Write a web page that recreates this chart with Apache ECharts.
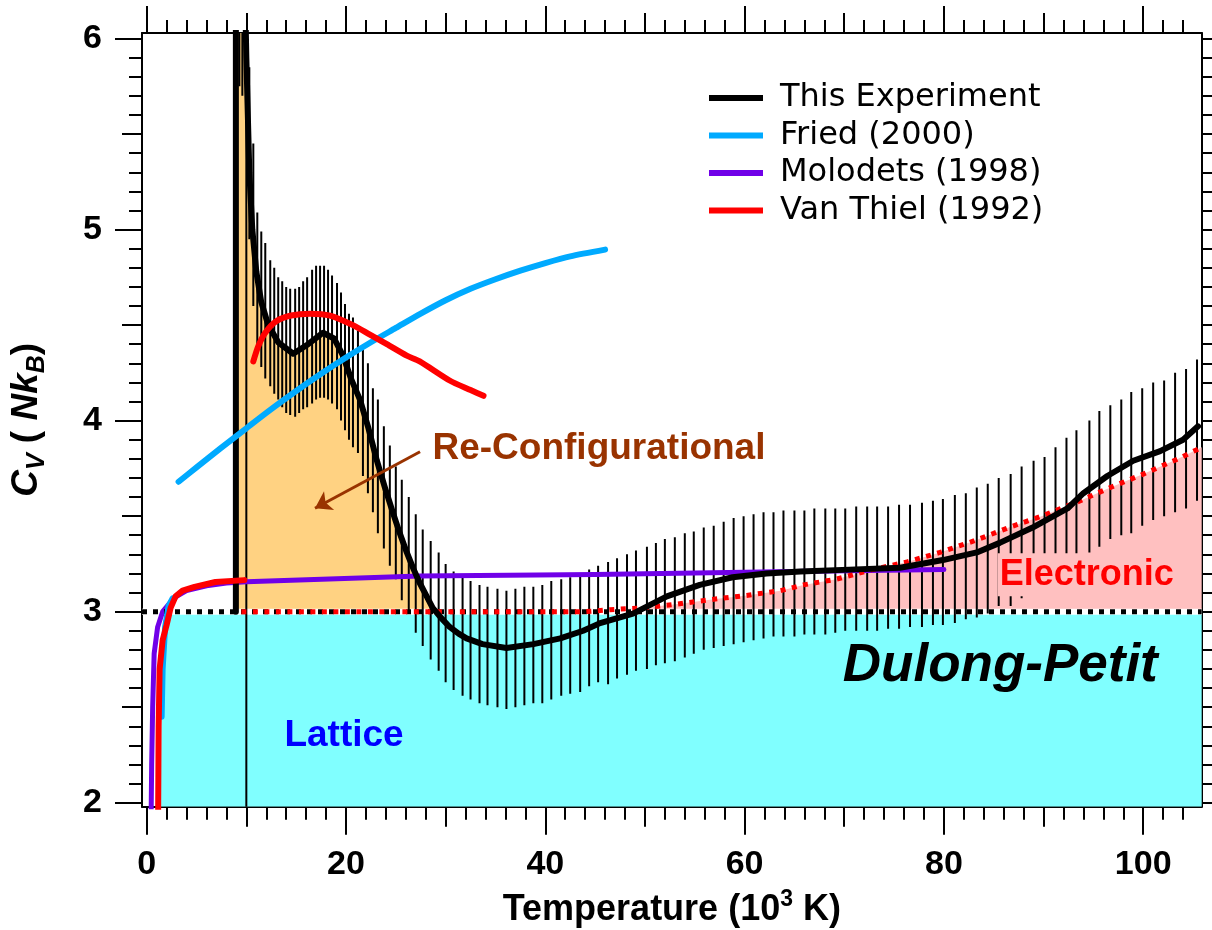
<!DOCTYPE html>
<html>
<head>
<meta charset="utf-8">
<script src="https://cdn.jsdelivr.net/npm/echarts@6.0.0/dist/echarts.min.js"></script>
<style>
  html, body { margin: 0; padding: 0; background: #fff; }
  #chart { width: 1212px; height: 930px; }
</style>
</head>
<body>
<div id="chart"></div>
<script>
// ---------- data (temperature in 10^3 K, Cv in Nk_B) ----------
// This Experiment: specific heat curve
const expT  = [8.95, 8.95, 9.85, 10.0, 10.3, 10.6, 11.0, 11.5, 12.2, 13.2, 14.7, 16.2, 17.7, 18.8, 19.7, 20.5, 21.4, 22.2, 23.1, 23.9,
               24.7, 25.4, 26.1, 26.8, 27.4, 28.1, 28.7, 29.5, 30.4, 31.3, 32.1, 33.7, 36.1, 38.8, 41.5, 43.8, 45.5, 48.8, 52.2, 55.5,
               58.8, 62.2, 65.6, 70.5, 75.6, 79.9, 83.3, 85.6, 88.9, 92.4, 94.0, 96.4, 99.0, 101.7, 104.0, 105.5];
const expCv = [3.0, 6.3, 6.3, 5.9, 5.3, 5.0, 4.78, 4.62, 4.5, 4.41, 4.35, 4.40, 4.46, 4.43, 4.34, 4.22, 4.11, 3.97, 3.79, 3.65,
               3.52, 3.41, 3.31, 3.22, 3.15, 3.08, 3.02, 2.97, 2.92, 2.885, 2.86, 2.83, 2.81, 2.83, 2.86, 2.90, 2.94, 2.99, 3.08, 3.14,
               3.18, 3.20, 3.21, 3.22, 3.23, 3.27, 3.31, 3.36, 3.44, 3.54, 3.62, 3.71, 3.79, 3.84, 3.90, 3.97];

// This Experiment: error bars (temperature, lower end, upper end)
const errT  = [9.3, 9.6, 10.0, 10.3, 10.7, 11.1, 11.5, 11.9, 12.4, 12.8, 13.2, 13.6,
               14.0, 14.4, 14.9, 15.3, 15.7, 16.1, 16.6, 17.0, 17.4, 17.8,
               18.2, 18.6, 19.1, 19.5, 19.9, 20.3, 20.7, 21.2, 21.7, 22.2,
               22.7, 23.2, 23.8, 24.4, 25.0, 25.6, 26.3, 27.0, 27.7, 28.5,
               29.3, 30.0, 30.8, 31.7, 32.5, 33.4, 34.2, 35.2, 36.1, 37.0,
               37.9, 38.8, 39.7, 40.6, 41.6, 42.5, 43.5, 44.4, 45.3, 46.3,
               47.2, 48.2, 49.1, 50.2, 51.1, 52.0, 53.0, 54.0, 54.9, 55.9,
               56.9, 57.9, 58.9, 59.9, 60.9, 61.9, 62.9, 63.9, 65.0, 66.0,
               67.0, 68.1, 69.1, 70.1, 71.2, 72.3, 73.3, 74.4, 75.5, 76.6,
               77.8, 78.9, 79.9, 81.1, 82.2, 83.3, 84.4, 85.5, 86.7, 87.8,
               89.0, 90.1, 91.2, 92.3, 93.3, 94.6, 95.6, 96.7, 97.8, 98.8,
               99.9, 101.0, 102.1, 103.2, 104.3, 105.4];
const errLo = [5.75, 5.7, 1.9, 4.95, 4.6, 4.38, 4.28, 4.22, 4.18, 4.14, 4.11, 4.07,
               4.04, 4.03, 4.02, 4.04, 4.06, 4.07, 4.09, 4.11, 4.12, 4.12,
               4.11, 4.09, 4.06, 4.00, 3.95, 3.90, 3.86, 3.83, 3.71, 3.62,
               3.52, 3.41, 3.33, 3.24, 3.17, 3.06, 3.00, 2.89, 2.82, 2.75,
               2.69, 2.63, 2.59, 2.56, 2.54, 2.52, 2.51, 2.50, 2.49, 2.50,
               2.51, 2.52, 2.52, 2.54, 2.56, 2.57, 2.58, 2.61, 2.63, 2.62,
               2.65, 2.67, 2.69, 2.70, 2.72, 2.73, 2.74, 2.76, 2.78, 2.80,
               2.81, 2.82, 2.83, 2.84, 2.85, 2.86, 2.87, 2.87, 2.87, 2.88,
               2.88, 2.88, 2.89, 2.90, 2.90, 2.90, 2.90, 2.91, 2.91, 2.92,
               2.92, 2.93, 2.93, 2.94, 2.96, 2.97, 2.99, 3.03, 3.03, 3.07,
               3.10, 3.13, 3.17, 3.20, 3.24, 3.31, 3.34, 3.38, 3.40, 3.41,
               3.45, 3.48, 3.50, 3.52, 3.54, 3.58];
const errHi = [6.5, 6.5, 6.5, 5.85, 5.45, 5.09, 4.99, 4.93, 4.84, 4.80, 4.75, 4.73,
               4.70, 4.69, 4.69, 4.70, 4.73, 4.75, 4.79, 4.81, 4.81, 4.81,
               4.79, 4.76, 4.72, 4.67, 4.61, 4.56, 4.54, 4.47, 4.39, 4.30,
               4.17, 4.11, 3.97, 3.87, 3.76, 3.69, 3.60, 3.51, 3.43, 3.37,
               3.31, 3.25, 3.21, 3.18, 3.16, 3.14, 3.13, 3.12, 3.11, 3.12,
               3.13, 3.13, 3.14, 3.16, 3.17, 3.18, 3.19, 3.22, 3.24, 3.26,
               3.28, 3.30, 3.32, 3.34, 3.36, 3.38, 3.39, 3.41, 3.42, 3.44,
               3.45, 3.47, 3.49, 3.50, 3.51, 3.52, 3.52, 3.53, 3.53, 3.53,
               3.54, 3.54, 3.54, 3.54, 3.55, 3.55, 3.55, 3.55, 3.56, 3.56,
               3.57, 3.58, 3.59, 3.61, 3.62, 3.65, 3.67, 3.70, 3.72, 3.76,
               3.79, 3.81, 3.86, 3.91, 3.95, 4.00, 4.05, 4.08, 4.11, 4.15,
               4.17, 4.20, 4.21, 4.25, 4.27, 4.32];

// Fried (2000)
const friedLowT  = [1.5, 1.6, 1.85, 2.2, 2.6];
const friedLowCv = [2.45, 2.7, 2.92, 3.03, 3.07];
const friedT  = [3.2, 5, 7.4, 10, 12.5, 15, 17.5, 20, 22.5, 25, 27.5, 30, 32.5, 35, 37.5, 40, 42.5, 46];
const friedCv = [3.68, 3.755, 3.855, 3.96, 4.06, 4.155, 4.245, 4.33, 4.41, 4.485, 4.56, 4.63, 4.69, 4.74, 4.785, 4.825, 4.86, 4.895];

// Molodets (1998)
const molT  = [0.45, 0.5, 0.6, 0.75, 1.1, 1.6, 2.4, 3.0, 4.0, 6.0, 8.0, 10.0, 27.4, 45.0, 65.0, 80.0];
const molCv = [1.95, 2.2, 2.5, 2.78, 2.92, 3.0, 3.05, 3.08, 3.11, 3.135, 3.15, 3.157, 3.187, 3.195, 3.21, 3.22];

// Van Thiel (1992)
const vtLowT  = [1.15, 1.2, 1.3, 1.6, 2.0, 2.4, 2.9, 3.6, 4.8, 6.9, 9.8];
const vtLowCv = [1.95, 2.4, 2.7, 2.85, 2.93, 3.02, 3.08, 3.11, 3.13, 3.155, 3.165];
const vtHighT  = [10.7, 11.2, 11.9, 13.0, 14.5, 16.4, 18.4, 20.7, 22.4, 24.1, 26.1, 27.4, 30.4, 32.5, 33.8];
const vtHighCv = [4.31, 4.39, 4.46, 4.52, 4.55, 4.56, 4.55, 4.50, 4.45, 4.40, 4.34, 4.31, 4.21, 4.16, 4.13];

// Contributions: lattice boundary, Dulong-Petit level, electronic term
const latticeT  = [1.4, 1.5, 1.6, 1.85, 2.2, 2.8, 105.87];
const latticeCv = [1.98, 2.45, 2.7, 2.9, 2.97, 3.0, 3.0];
const dulongPetit = 3;
const elecT  = [8.9, 44.0, 46.5, 49.8, 53.3, 56.9, 60.2, 63.6, 65.9, 69.2, 72.8, 76.3, 79.6, 83.0, 86.5, 89.8, 93.2, 96.7, 100.0, 103.5, 105.87];
const elecCv = [3.0, 3.0, 3.01, 3.02, 3.04, 3.065, 3.085, 3.11, 3.14, 3.17, 3.22, 3.26, 3.31, 3.37, 3.44, 3.50, 3.57, 3.65, 3.72, 3.80, 3.86];

// Annotations
const annText = ['Lattice', 'Re-Configurational', 'Electronic', 'Dulong-Petit'];
const annT  = [13.87, 28.73, 85.45, 69.9];
const annCv = [2.35, 3.85, 3.19, 2.71];
const arrowFrom = [27.43, 3.837];
const arrowTo   = [16.89, 3.541];

// Axis ticks
const xMajor = [0, 20, 40, 60, 80, 100];
const xMid   = [10, 30, 50, 70, 90];
const xMinor = [];
for (let i = 1; i <= 52; i++) { if ((2 * i) % 10 !== 0) xMinor.push(2 * i); }
const yMajor = [2, 3, 4, 5, 6];
const yMid   = [2.5, 3.5, 4.5, 5.5];
const yMinor = [];
for (let i = 21; i < 60; i++) { if (i % 5 !== 0) yMinor.push(i / 10); }

// ---------- chart ----------
const X_MIN = -0.47, X_MAX = 105.87, Y_MIN = 1.979, Y_MAX = 6.029;
const pairs = (xs, ys) => xs.map((x, i) => [x, ys[i]]);
const BOLD = 'Liberation Sans';
const SMOOTH = 0.25;

function tickAxis(dim, pos, values, len, showLine, extra) {
  return Object.assign({
    type: 'value',
    position: pos,
    gridIndex: 0,
    min: dim === 'x' ? X_MIN : Y_MIN,
    max: dim === 'x' ? X_MAX : Y_MAX,
    axisLine: { show: showLine, onZero: false, lineStyle: { color: '#000', width: 2 } },
    axisTick: { show: true, inside: false, customValues: values, length: len, lineStyle: { color: '#000', width: 2 } },
    axisLabel: { show: false },
    splitLine: { show: false },
    minorTick: { show: false },
    minorSplitLine: { show: false },
    nameMoveOverlap: false,
    silent: true
  }, extra || {});
}

const xAxes = [
  tickAxis('x', 'bottom', xMajor, 28, true, {
    axisLabel: { show: true, customValues: xMajor, margin: 41, color: '#000',
                 fontFamily: BOLD, fontWeight: 'bold', fontSize: 34 },
    name: '{n|Temperature (10}{s|3}{n| K)}',
    nameLocation: 'middle',
    nameGap: 81,
    nameTextStyle: {
      rich: {
        n: { fontFamily: BOLD, fontWeight: 'bold', fontSize: 36, color: '#000', lineHeight: 44, verticalAlign: 'middle' },
        s: { fontFamily: BOLD, fontWeight: 'bold', fontSize: 23, color: '#000', lineHeight: 24, verticalAlign: 'top' }
      }
    }
  }),
  tickAxis('x', 'bottom', xMid, 20, false),
  tickAxis('x', 'bottom', xMinor, 13, false),
  tickAxis('x', 'top', xMajor, 27, true),
  tickAxis('x', 'top', xMid, 20, false),
  tickAxis('x', 'top', xMinor, 13, false)
];

const yAxes = [
  tickAxis('y', 'left', yMajor, 27, true, {
    axisLabel: { show: true, customValues: yMajor, margin: 40, color: '#000',
                 fontFamily: BOLD, fontWeight: 'bold', fontSize: 34 },
    name: '{i|C}{sub|V}{n| ( }{i|Nk}{sub|B}{n|)}',
    nameLocation: 'middle',
    nameGap: 92,
    nameTextStyle: {
      rich: {
        i: { fontFamily: BOLD, fontWeight: 'bold', fontStyle: 'italic', fontSize: 37, color: '#000', lineHeight: 46, verticalAlign: 'middle' },
        n: { fontFamily: BOLD, fontWeight: 'bold', fontSize: 37, color: '#000', lineHeight: 46, verticalAlign: 'middle' },
        sub: { fontFamily: BOLD, fontWeight: 'bold', fontStyle: 'italic', fontSize: 25, color: '#000', lineHeight: 25, verticalAlign: 'bottom' }
      }
    }
  }),
  tickAxis('y', 'left', yMid, 20, false),
  tickAxis('y', 'left', yMinor, 13, false),
  tickAxis('y', 'right', yMajor, 27, true),
  tickAxis('y', 'right', yMid, 20, false),
  tickAxis('y', 'right', yMinor, 13, false)
];

function curve(name, data, color, width, z, extra) {
  return Object.assign({
    name: name,
    type: 'line',
    data: data,
    xAxisIndex: 0,
    yAxisIndex: 0,
    z: z,
    symbol: 'none',
    showSymbol: false,
    clip: true,
    silent: true,
    color: color,
    itemStyle: { color: color },
    lineStyle: { color: color, width: width, join: 'round', cap: 'round' }
  }, extra || {});
}

function fill(name, data, color, origin) {
  return {
    name: name,
    type: 'line',
    data: data,
    z: 1,
    symbol: 'none',
    silent: true,
    clip: true,
    lineStyle: { width: 0, opacity: 0 },
    areaStyle: { color: color, opacity: 1, origin: origin }
  };
}

// Re-configurational part: experiment curve above the Dulong-Petit level, up to where it meets it
const reconfigData = pairs(expT, expCv).filter(p => p[0] <= 28.8);

const annStyles = [
  { color: '#0000FF', fontSize: 37 },
  { color: '#993300', fontSize: 37 },
  { color: '#FF0000', fontSize: 36, backgroundColor: '#FFC0C0', padding: [4, 2, 3, 2] },
  { color: '#000000', fontSize: 53, fontStyle: 'italic' }
];

const annotationData = annText.map((t, i) => ({
  value: [annT[i], annCv[i]],
  label: Object.assign({
    show: true,
    formatter: t,
    position: [0, 0],
    align: 'left',
    verticalAlign: 'middle',
    fontFamily: BOLD,
    fontWeight: 'bold',
    textBorderWidth: 0,
    textShadowBlur: 0,
    opacity: 1
  }, annStyles[i])
}));

const chart = echarts.init(document.getElementById('chart'), null, { renderer: 'canvas' });
chart.setOption({
  animation: false,
  backgroundColor: '#ffffff',
  grid: { left: 142, top: 33, right: 10.3, bottom: 123.3, containLabel: false, outerBoundsMode: 'none' },
  xAxis: xAxes,
  yAxis: yAxes,
  legend: {
    orient: 'vertical',
    left: 709,
    top: 82,
    padding: 0,
    itemWidth: 54,
    itemHeight: 6,
    itemGap: 5.5,
    icon: 'rect',
    selectedMode: false,
    textStyle: { fontFamily: 'DejaVu Sans', fontSize: 32, color: '#000', lineHeight: 24, padding: [0, 0, 0, 12] },
    data: ['This Experiment', 'Fried (2000)', 'Molodets (1998)', 'Van Thiel (1992)']
  },
  series: [
    fill('Lattice region', pairs(latticeT, latticeCv), '#80FFFF', 'start'),
    fill('Re-configurational region', reconfigData, '#FFD282', dulongPetit),
    fill('Electronic region', pairs(elecT, elecCv), '#FFC0C0', dulongPetit),
    curve('level-gap', [[X_MIN, dulongPetit], [X_MAX, dulongPetit]], '#ffffff', 6, 2,
      { lineStyle: { color: '#fff', width: 6, cap: 'butt' } }),
    {
      name: 'error bars',
      type: 'custom',
      z: 3,
      silent: true,
      clip: true,
      data: errT.map((t, i) => [t, errLo[i], errHi[i]]),
      encode: { x: 0, y: [1, 2] },
      renderItem: function (params, api) {
        const a = api.coord([api.value(0), api.value(1)]);
        const b = api.coord([api.value(0), api.value(2)]);
        return {
          type: 'line',
          shape: { x1: a[0], y1: a[1], x2: b[0], y2: b[1] },
          style: { stroke: '#000', lineWidth: 2 }
        };
      }
    },
    curve('Molodets (1998)', pairs(molT, molCv), '#7000E8', 5, 4),
    curve('Dulong-Petit level', [[X_MIN, dulongPetit], [X_MAX, dulongPetit]], '#000', 5, 5,
      { lineStyle: { color: '#000', width: 5, type: [5, 6], cap: 'butt' } }),
    curve('Electronic', pairs(elecT, elecCv), '#FF0000', 5, 6,
      { lineStyle: { color: '#FF0000', width: 5, type: [5, 6.5], dashOffset: -6, cap: 'butt' } }),
    curve('This Experiment', pairs(expT, expCv), '#000000', 6, 7),
    curve('Fried (2000)', pairs(friedLowT, friedLowCv), '#00AAFF', 6, 8),
    curve('Fried (2000)', pairs(friedT, friedCv), '#00AAFF', 6, 8, { smooth: SMOOTH }),
    curve('Van Thiel (1992)', pairs(vtLowT, vtLowCv), '#FF0000', 6, 9),
    curve('Van Thiel (1992)', pairs(vtHighT, vtHighCv), '#FF0000', 6, 9, { smooth: SMOOTH }),
    {
      name: 'arrow',
      type: 'lines',
      coordinateSystem: 'cartesian2d',
      z: 10,
      silent: true,
      symbol: ['none', 'arrow'],
      symbolSize: 16,
      lineStyle: { color: '#993300', width: 3, opacity: 1 },
      data: [{ coords: [arrowFrom, arrowTo] }]
    },
    {
      name: 'annotations',
      type: 'scatter',
      z: 11,
      silent: true,
      symbolSize: 1,
      itemStyle: { color: 'rgba(0,0,0,0)' },
      labelLayout: { hideOverlap: false },
      data: annotationData
    }
  ]
});
</script>
</body>
</html>
